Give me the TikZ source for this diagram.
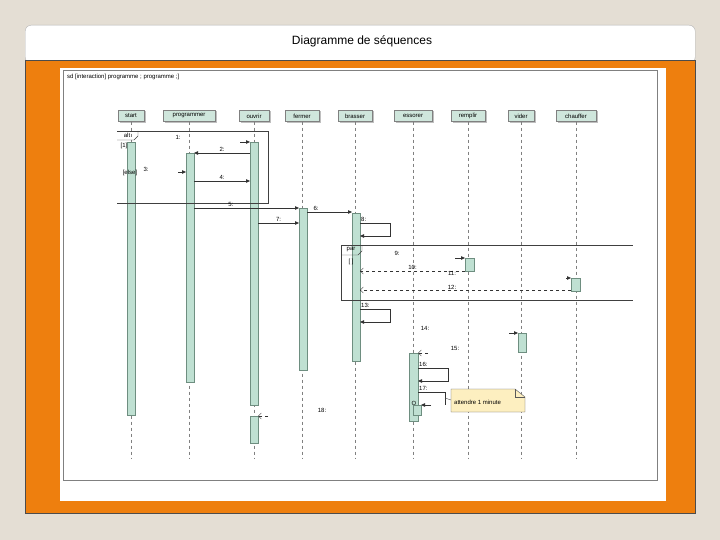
\documentclass[tikz,border=0pt]{standalone}
\usepackage{fontspec}
\setmainfont{Liberation Sans}
\usetikzlibrary{arrows.meta}
\definecolor{bg}{HTML}{E4DED4}
\definecolor{org}{HTML}{EE7F0E}
\definecolor{act}{HTML}{BFE0D2}
\definecolor{actd}{HTML}{6E8E80}
\definecolor{hd}{HTML}{CFE6DC}
\definecolor{note}{HTML}{FDEFC0}
\tikzset{
 life/.style={draw=gray,dashed,thin},
 hbox/.style={draw=gray,fill=hd,minimum width=30pt,minimum height=11pt,inner sep=1pt,font=\fontsize{6}{6}\selectfont,drop shadow/.style={}},
 actb/.style={draw=actd,fill=act},
 msg/.style={draw=black!80,thin,-{Triangle[length=4pt,width=3.5pt]}},
 rmsg/.style={draw=black!80,thin,dashed,-{Straight Barb[length=3pt]}},
 lab/.style={font=\fontsize{6}{6}\selectfont,inner sep=1pt},
 frm/.style={draw=black!75,thin}
}
\begin{document}
\begin{tikzpicture}[x=1pt,y=-1pt]
\useasboundingbox (0,0) rectangle (720,540);
\fill[bg] (0,0) rectangle (720,540);
\node[draw=gray!60,fill=white,rounded corners=6pt,minimum width=670pt,minimum height=38pt,anchor=north west] (tb) at (25,25) {};
\node[font=\fontsize{12}{12}\selectfont] (title) at (362,41) {Diagramme de séquences};
\draw[fill=org,draw=black!70] (25,60) rectangle (695,513);
\fill[white] (60,68) rectangle (666,501);
\draw[gray,thin] (63,70) rectangle (657,480);
\node[lab,anchor=west] (sd) at (66,77) {sd [interaction] programme ; programme ;]};
% lifelines
\foreach \n/\x/\t/\w in {st/131/start/26,pr/189/programmer/52,ou/254/ouvrir/30,fe/302/fermer/34,br/355/brasser/34,es/413/essorer/38,re/468/remplir/34,vi/521/vider/26,ch/576/chauffer/40}{
 \fill[gray!50] (\x-\w/2+1.5,111.5) rectangle (\x+\w/2+1.5,123.5);
 \node[hbox,minimum width=\w pt] (\n) at (\x,116) {\t};
 \draw[life] (\n.south) -- (\x,458);
}
% activations
\foreach \a/\b/\c/\d in {127/142/135/415, 186/153/194/382, 250/142/258/405, 250/416/258/443, 299/208/307/370, 352/213/360/361, 409/353/418/421, 413/405/421/415, 465/258/474/271, 518/333/526/352, 571/278/580/291}{
 \draw[actb] (\a,\b) rectangle (\c,\d);
}
% alt frame
\draw[frm] (117,131) -- (268,131) -- (268,203) -- (117,203);
\draw[frm] (117,140) -- (134,140) -- (138,136) -- (138,131);
\node[lab] (alt) at (127,135.5) {alt};
\node[lab] (g1) at (124,146) {[1]};
\node[lab] (g2) at (130,173) {[else]};
% messages
\node[lab] (m1) at (178,137) {1:};
\draw[msg] (240,142) -- (250,142);
\draw[msg] (250,153) -- node[lab,above]{2:} (194,153);
\draw[msg] (178,172) -- (186,172);
\node[lab] (m3) at (146,169) {3:};
\draw[msg] (194,181) -- node[lab,above]{4:} (250,181);
\draw[msg] (194,208) -- node[lab,above,pos=0.35]{5:} (299,208);
\draw[msg] (307,212) -- node[lab,above,pos=0.2]{6:} (352,212);
\draw[msg] (258,223) -- node[lab,above]{7:} (299,223);
\draw[msg] (360,223) node[lab,above right]{8:} -- (390,223) -- (390,236) -- (360,236);
% par frame
\draw[frm] (341,245) -- (633,245);
\draw[frm] (341,300) -- (633,300);
\draw[frm] (341,245) -- (341,300);
\draw[frm] (341,255) -- (358,255) -- (362,251) -- (362,245);
\node[lab] (par) at (351,250) {par};
\node[lab] (g3) at (351,262) {[ ]};
\node[lab] (m9) at (397,253) {9:};
\draw[msg] (455,258) -- (465,258);
\draw[rmsg] (465,271) -- node[lab,above]{10:} (360,271);
\node[lab] (m11) at (452,273) {11:};
\draw[msg] (566,278) -- (571,278);
\draw[rmsg] (571,290) -- (360,290);
\node[lab] (m12) at (452,287) {12:};
\draw[msg] (360,309) node[lab,above right]{13:} -- (390,309) -- (390,322) -- (360,322);
\node[lab] (m14) at (425,328) {14:};
\node[lab] (m15) at (455,348) {15:};
\draw[msg] (509,333) -- (518,333);
\draw[rmsg] (428,353) -- (418,353);
\draw[msg] (418,368) node[lab,above right]{16:} -- (448,368) -- (448,381) -- (418,381);
\draw[draw=black!80,thin] (418,392) node[lab,above right]{17:} -- (445,392) -- (445,405) ;
\draw[msg] (431,405) -- (421,405);
\node[lab] (o) at (414,403) {O};
\draw[rmsg] (268,416) -- (258,416);
\node[lab] (m18) at (322,410) {18:};
% note
\draw[draw=gray!70!black,fill=note] (451,389) -- (515,389) -- (525,397) -- (525,412) -- (451,412) -- cycle;
\draw[draw=gray!70!black] (515,389) -- (515,397) -- (525,397);
\node[lab,anchor=west] (nt) at (453,402) {attendre 1 minute};
\draw[thin,black!70] (445,398) -- (451,400);
\end{tikzpicture}
\end{document}
